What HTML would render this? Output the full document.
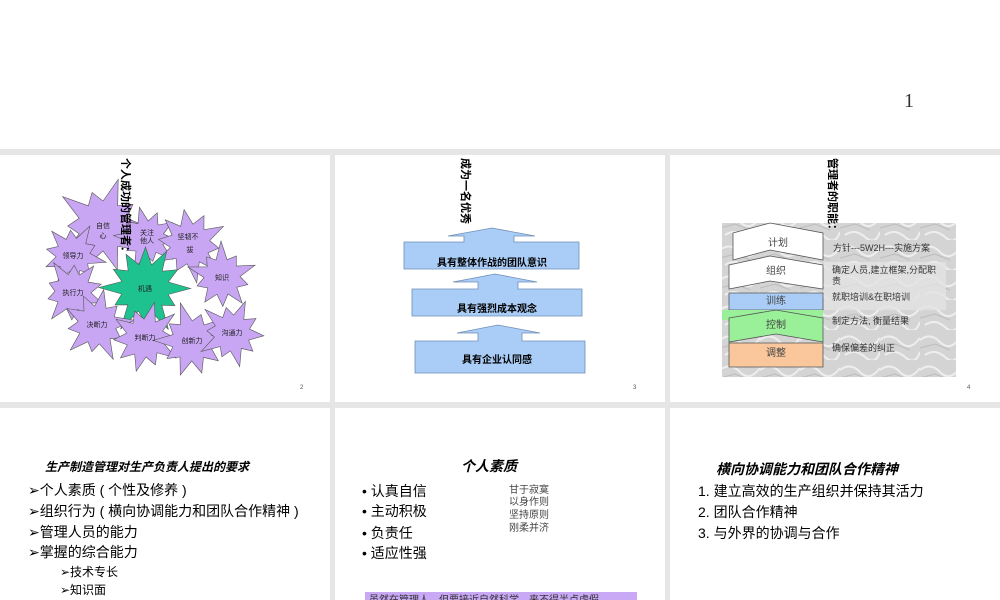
<!DOCTYPE html>
<html><head><meta charset="utf-8"><style>
body{margin:0;width:1000px;height:600px;overflow:hidden;background:#fff}
svg{display:block}
text{font-family:"Liberation Sans","Noto Sans CJK SC",sans-serif}
.s{font-family:"Liberation Serif","Noto Serif CJK SC",serif}
</style></head><body>
<svg id="sv" width="1000" height="600" viewBox="0 0 1000 600" xmlns="http://www.w3.org/2000/svg">
<defs>
<pattern id="mar" width="40" height="30" patternUnits="userSpaceOnUse">
<rect width="40" height="30" fill="#d4d4d4"/>
<path d="M0 10 Q10 2 20 12 T40 8 M5 25 Q15 18 25 27 T40 22" stroke="#eee" stroke-width="2" fill="none"/>
<path d="M0 18 L15 14 L30 20" stroke="#bcbcbc" stroke-width="1" fill="none"/>
</pattern>
</defs>
<rect x="0" y="0" width="1000" height="600" fill="#e6e6e6"/>
<rect x="0" y="0" width="1000" height="149" fill="#fff"/>
<text x="904" y="107" class="s" font-size="20" fill="#333">1</text>
<rect x="0" y="155" width="330" height="247" fill="#fff"/>
<rect x="335" y="155" width="330" height="247" fill="#fff"/>
<rect x="670" y="155" width="330" height="247" fill="#fff"/>
<rect x="0" y="408" width="330" height="192" fill="#fff"/>
<rect x="335" y="408" width="330" height="192" fill="#fff"/>
<rect x="670" y="408" width="330" height="192" fill="#fff"/>

<g id="stars"></g>
<text x="122" y="158" font-size="11" font-weight="bold" transform="rotate(90 122 158)">个人成功的管理者：</text>
<g font-size="7" text-anchor="middle" fill="#222">
<text x="103" y="228">自信</text><text x="103" y="238">心</text>
<text x="147" y="235">关注</text><text x="147" y="243">他人</text>
<text x="188" y="239">坚韧不</text><text x="190" y="252">拔</text>
<text x="73" y="258">领导力</text>
<text x="222" y="280">知识</text>
<text x="73" y="295">执行力</text>
<text x="145" y="291">机遇</text>
<text x="97" y="327">决断力</text>
<text x="145" y="340">判断力</text>
<text x="192" y="343">创新力</text>
<text x="232" y="335">沟通力</text>
</g>
<text x="300" y="389" font-size="6" fill="#555">2</text>

<text x="462" y="158" font-size="11" font-weight="bold" transform="rotate(90 462 158)">成为一名优秀</text>
<g fill="#a9cdf7" stroke="#6f8fb5" stroke-width="0.8">
<polygon points="404,242 464,242 464,236 448,236 492,228 535,236 514,236 514,242 579,242 579,269 404,269"/>
<polygon points="412,289 478,289 478,282 453,282 495,274 537,282 518,282 518,289 582,289 582,316 412,316"/>
<polygon points="415,341 478,341 478,333 457,333 498,325 540,333 522,333 522,341 585,341 585,373 415,373"/>
</g>
<g font-size="10" font-weight="bold" text-anchor="middle">
<text x="492" y="266">具有整体作战的团队意识</text>
<text x="497" y="312">具有强烈成本观念</text>
<text x="497" y="363">具有企业认同感</text>
</g>
<text x="633" y="389" font-size="6" fill="#555">3</text>

<rect x="722" y="223" width="234" height="154" fill="url(#mar)"/>
<rect x="824" y="262" width="122" height="48" fill="#e2e2e2" opacity="0.8"/>
<g stroke="#555" stroke-width="0.8">
<polygon points="733,233 770,223 823,233 823,260 770,250 733,260" fill="#fff"/>
<polygon points="729,265 770,256 823,265 823,289 770,281 729,289" fill="#fff"/>
<polygon points="729,293 823,293 823,310 729,310" fill="#a9cdf7"/>
<rect x="722" y="310" width="101" height="10" fill="#99f099" stroke="none"/>
<polygon points="729,318 776,310 823,318 823,342 776,334 729,342" fill="#99f099"/>
<polygon points="729,343 823,343 823,367 729,367" fill="#f9c79b"/>
</g>
<g font-size="10" fill="#444" text-anchor="middle" class="s">
<text x="778" y="246">计划</text><text x="776" y="274">组织</text>
<text x="776" y="304">训练</text><text x="776" y="328">控制</text>
<text x="776" y="356">调整</text>
</g>
<g font-size="9" fill="#333" class="s">
<text x="833" y="251">方针---5W2H---实施方案</text>
<text x="832" y="273">确定人员,建立框架,分配职</text>
<text x="832" y="284">责</text>
<text x="832" y="300">就职培训&amp;在职培训</text>
<text x="832" y="324">制定方法, 衡量结果</text>
<text x="832" y="351">确保偏差的纠正</text>
</g>
<text x="829" y="158" font-size="11" font-weight="bold" transform="rotate(90 829 158)">管理者的职能：</text>
<text x="967" y="389" font-size="6" fill="#555">4</text>

<text x="45" y="471" font-size="12" font-weight="bold" font-style="italic">生产制造管理对生产负责人提出的要求</text>
<g font-size="14" class="s">
<text x="28" y="495">➢个人素质 ( 个性及修养 )</text>
<text x="28" y="516">➢组织行为 ( 横向协调能力和团队合作精神 )</text>
<text x="28" y="537">➢管理人员的能力</text>
<text x="28" y="557">➢掌握的综合能力</text>
</g>
<g font-size="12" class="s">
<text x="60" y="576">➢技术专长</text>
<text x="60" y="594">➢知识面</text>
</g>

<text x="461" y="471" font-size="14" font-weight="bold" font-style="italic">个人素质</text>
<g font-size="14" class="s">
<text x="362" y="496">•  认真自信</text>
<text x="362" y="516">•  主动积极</text>
<text x="362" y="538">•  负责任</text>
<text x="362" y="558">•  适应性强</text>
</g>
<g font-size="10" class="s" fill="#444">
<text x="509" y="493">甘于寂寞</text><text x="509" y="505">以身作则</text>
<text x="509" y="518">坚持原则</text><text x="509" y="531">刚柔并济</text>
</g>
<rect x="365" y="592" width="272" height="10" fill="#c9a8f5"/>
<text x="369" y="603" font-size="10" fill="#333">虽然在管理人，但要接近自然科学，来不得半点虚假</text>

<text x="716" y="474" font-size="14" font-weight="bold" font-style="italic">横向协调能力和团队合作精神</text>
<g font-size="14" class="s">
<text x="698" y="496">1.  建立高效的生产组织并保持其活力</text>
<text x="698" y="517">2.  团队合作精神</text>
<text x="698" y="538">3.  与外界的协调与合作</text>
</g>
</svg>
<script>
var g=document.getElementById('stars');
var S=[[103,226,50,"#c8a6f3"],[147,238,34,"#c8a6f3"],[190,244,40,"#c8a6f3"],[73,255,34,"#c8a6f3"],[222,277,36,"#c8a6f3"],[73,292,36,"#c8a6f3"],[97,325,38,"#c8a6f3"],[145,338,38,"#c8a6f3"],[192,341,40,"#c8a6f3"],[232,333,36,"#c8a6f3"],[145,288,48,"#1dc28f"]];
var order=[0,1,2,3,4,5,10,6,7,8,9];
order.forEach(function(i,k){var s=S[i];var n=i==10?12:10;var p=[];for(var j=0;j<2*n;j++){var a=j*Math.PI/n+k*0.7;var r=j%2?s[2]*0.5:s[2]*(0.85+0.15*Math.sin(j*1.7+k));p.push((s[0]+r*Math.cos(a)).toFixed(1)+','+(s[1]+r*Math.sin(a)).toFixed(1));}
var e=document.createElementNS('http://www.w3.org/2000/svg','polygon');e.setAttribute('points',p.join(' '));e.setAttribute('fill',s[3]);e.setAttribute('stroke','#555');e.setAttribute('stroke-width','0.6');g.appendChild(e);});
</script>
</body></html>
